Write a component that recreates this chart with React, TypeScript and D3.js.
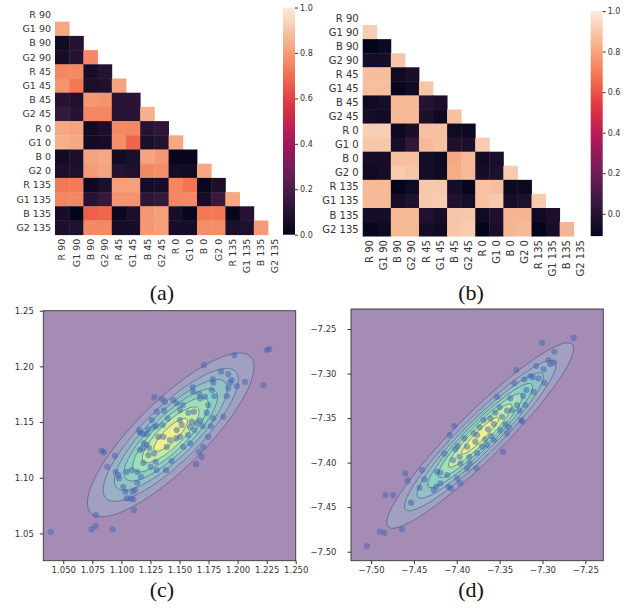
import React, { useEffect, useRef } from "react";
import * as d3 from "d3";

// channel / angle labels of the correlation matrices
const labels = [
  "R 90", "G1 90", "B 90", "G2 90",
  "R 45", "G1 45", "B 45", "G2 45",
  "R 0", "G1 0", "B 0", "G2 0",
  "R 135", "G1 135", "B 135", "G2 135",
];

// lower triangle (row i, columns 0..i-1), panel (a)
const corrA = [
  [],
  [0.83],
  [0.04, 0.10],
  [0.06, 0.10, 0.76],
  [0.75, 0.76, 0.06, 0.09],
  [0.78, 0.72, 0.07, 0.08, 0.82],
  [0.10, 0.08, 0.79, 0.78, 0.11, 0.11],
  [0.14, 0.10, 0.75, 0.75, 0.11, 0.11, 0.85],
  [0.83, 0.82, 0.04, 0.07, 0.76, 0.75, 0.10, 0.12],
  [0.85, 0.83, 0.04, 0.06, 0.77, 0.68, 0.07, 0.09, 0.83],
  [0.04, 0.07, 0.82, 0.83, 0.04, 0.07, 0.82, 0.79, 0.01, 0.01],
  [0.07, 0.08, 0.80, 0.82, 0.09, 0.08, 0.76, 0.77, 0.05, 0.04, 0.83],
  [0.72, 0.73, 0.03, 0.07, 0.81, 0.81, 0.05, 0.06, 0.75, 0.71, 0.02, 0.07],
  [0.75, 0.75, 0.10, 0.14, 0.78, 0.78, 0.12, 0.14, 0.75, 0.76, 0.06, 0.15, 0.83],
  [0.06, 0.00, 0.67, 0.68, 0.02, 0.07, 0.79, 0.81, 0.06, 0.01, 0.72, 0.72, 0.01, 0.09],
  [0.07, 0.08, 0.76, 0.76, 0.06, 0.06, 0.79, 0.81, 0.06, 0.06, 0.77, 0.77, 0.07, 0.08, 0.80],
];

// lower triangle, panel (b)
const corrB = [
  [],
  [0.91],
  [-0.12, -0.08],
  [-0.05, -0.05, 0.89],
  [0.87, 0.87, -0.07, -0.035],
  [0.87, 0.87, -0.10, -0.07, 0.89],
  [-0.07, -0.05, 0.855, 0.855, 0.0, -0.035],
  [-0.05, -0.07, 0.855, 0.86, -0.025, -0.08, 0.875],
  [0.92, 0.92, -0.08, -0.035, 0.875, 0.875, -0.07, -0.08],
  [0.895, 0.895, -0.05, 0.03, 0.86, 0.875, -0.025, -0.025, 0.905],
  [-0.05, -0.05, 0.875, 0.875, -0.05, -0.08, 0.81, 0.855, -0.06, -0.035],
  [-0.07, -0.05, 0.91, 0.89, -0.05, -0.07, 0.82, 0.855, -0.05, -0.025, 0.905],
  [0.86, 0.86, -0.12, -0.07, 0.90, 0.90, -0.05, -0.10, 0.88, 0.87, -0.08, -0.08],
  [0.86, 0.86, -0.05, -0.015, 0.90, 0.91, -0.015, -0.05, 0.88, 0.905, -0.05, -0.025, 0.905],
  [-0.05, -0.05, 0.855, 0.855, -0.015, -0.05, 0.89, 0.895, -0.07, -0.025, 0.845, 0.845, -0.07, -0.025],
  [-0.10, -0.08, 0.855, 0.855, -0.05, -0.07, 0.89, 0.905, -0.12, -0.035, 0.845, 0.86, -0.12, -0.05, 0.845],
];

const cbarTicksA = [0, 0.2, 0.4, 0.6, 0.8, 1.0];
const cbarTicksB = [0, 0.2, 0.4, 0.6, 0.8, 1.0];

// scatter samples, panel (c)
const cX = [
  1.0392, 1.0744, 1.0779, 1.0781, 1.0925, 1.1109, 1.0831, 1.0850, 1.0945, 1.0879,
  1.0951, 1.0973, 1.0979, 1.1016, 1.1034, 1.1046, 1.1080, 1.1103, 1.1097, 1.1117,
  1.1137, 1.1169, 1.1137, 1.1089, 1.1046, 1.1189, 1.1160, 1.1183, 1.1218, 1.1195,
  1.1232, 1.1281, 1.1295, 1.1304, 1.1252, 1.1240, 1.1160, 1.1189, 1.1154, 1.1218,
  1.1261, 1.1281, 1.1304, 1.1356, 1.1283, 1.1347, 1.1375, 1.1367, 1.1399, 1.1447,
  1.1476, 1.1505, 1.1528, 1.1576, 1.1625, 1.1605, 1.1519, 1.1476, 1.1470, 1.1505,
  1.1576, 1.1591, 1.1628, 1.1648, 1.1677, 1.1700, 1.1734, 1.1769, 1.1791, 1.1748,
  1.1800, 1.1777, 1.1720, 1.1677, 1.1614, 1.1619, 1.1671, 1.1711, 1.1786, 1.1791,
  1.1858, 1.1920, 1.1935, 1.1950, 1.1920, 1.1907, 1.1877, 1.1972, 1.1993, 1.2064,
  1.2222, 1.2251, 1.2273, 1.1668, 1.1691, 1.1642, 1.1433, 1.1384, 1.1533, 1.1591,
  1.1705, 1.1748, 1.1361, 1.1418, 1.1390, 1.1318, 1.1304, 1.1232, 1.1505,
];
const cY = [
  1.0514, 1.0536, 1.0566, 1.0664, 1.0536, 1.0709, 1.1242, 1.1228, 1.1197, 1.1098,
  1.1053, 1.1024, 1.0994, 1.0919, 1.0874, 1.0814, 1.0814, 1.0805, 1.0874, 1.0889,
  1.0955, 1.1009, 1.1053, 1.1069, 1.1053, 1.1134, 1.1248, 1.1264, 1.1293, 1.1309,
  1.1204, 1.1219, 1.1143, 1.1069, 1.1098, 1.1264, 1.1404, 1.1392, 1.1428, 1.1392,
  1.1518, 1.1458, 1.1464, 1.1473, 1.1722, 1.1707, 1.1683, 1.1602, 1.1533, 1.1698,
  1.1668, 1.1608, 1.1653, 1.1584, 1.1593, 1.1503, 1.1473, 1.1428, 1.1353, 1.1368,
  1.1383, 1.1458, 1.1428, 1.1488, 1.1512, 1.1464, 1.1584, 1.1464, 1.1533, 1.1653,
  1.1734, 1.1788, 1.1728, 1.1713, 1.1812, 1.1772, 1.1752, 1.2012, 1.1884, 1.1853,
  1.1952, 1.1931, 1.1853, 1.1877, 1.1803, 1.1734, 1.1548, 1.2101, 1.1823, 1.1862,
  1.1832, 1.2147, 1.2156, 1.1233, 1.1188, 1.1122, 1.1150, 1.1069, 1.1278, 1.1309,
  1.1278, 1.1368, 1.1368, 1.1338, 1.1278, 1.1368, 1.1593, 1.1434, 1.1518,
];

// scatter samples, panel (d)
const dX = [
  -7.5047, -7.4900, -7.4845, -7.4638, -7.4833, -7.4743, -7.4600, -7.4573, -7.4533, -7.4433,
  -7.4405, -7.4378, -7.4270, -7.4230, -7.4191, -7.4145, -7.4113, -7.4095, -7.4067, -7.4043,
  -7.4016, -7.3997, -7.4083, -7.4028, -7.3990, -7.3966, -7.3958, -7.3911, -7.3880, -7.3853,
  -7.3849, -7.3803, -7.3783, -7.3763, -7.3771, -7.3733, -7.3705, -7.3686, -7.3666, -7.3635,
  -7.3608, -7.3600, -7.3569, -7.3550, -7.3530, -7.3499, -7.3471, -7.3460, -7.3433, -7.3394,
  -7.3413, -7.3375, -7.3355, -7.3328, -7.3305, -7.3296, -7.3266, -7.3246, -7.3226, -7.3211,
  -7.3188, -7.3141, -7.3110, -7.3071, -7.3044, -7.2986, -7.2978, -7.2928, -7.2908, -7.2861,
  -7.3005, -7.2636, -7.3238, -7.3880, -7.3958, -7.4238, -7.3763, -7.3413, -7.3491, -7.3646,
  -7.3569, -7.3200, -7.3103, -7.4191, -7.2869,
];
const dY = [
  -7.4936, -7.4776, -7.4787, -7.4749, -7.4364, -7.4364, -7.4120, -7.4203, -7.4450, -7.4282,
  -7.4083, -7.4187, -7.4308, -7.4102, -7.4232, -7.3896, -7.4139, -7.4271, -7.4289, -7.3971,
  -7.3850, -7.4176, -7.3690, -7.3589, -7.3813, -7.3934, -7.4008, -7.3727, -7.3821, -7.3934,
  -7.4008, -7.3671, -7.3765, -7.3889, -7.4064, -7.3604, -7.3821, -7.3522, -7.3738, -7.3626,
  -7.3503, -7.3701, -7.3567, -7.3440, -7.3260, -7.3379, -7.3485, -7.3878, -7.3570, -7.3604,
  -7.3417, -7.3278, -7.3410, -7.3110, -7.2960, -7.3353, -7.3417, -7.3522, -7.3252, -7.3065,
  -7.3185, -7.3028, -7.3042, -7.2915, -7.3053, -7.2952, -7.3103, -7.2848, -7.2893, -7.2755,
  -7.2654, -7.2597, -7.3541, -7.4064, -7.4232, -7.4271, -7.3690, -7.3671, -7.3634, -7.3802,
  -7.3746, -7.3353, -7.3204, -7.4113, -7.2878,
];

const cXTicks = [1.05, 1.075, 1.1, 1.125, 1.15, 1.175, 1.2, 1.225, 1.25];
const cYTicks = [1.05, 1.1, 1.15, 1.2, 1.25];
const dXTicks = [-7.5, -7.45, -7.4, -7.35, -7.3, -7.25];
const dYTicks = [-7.5, -7.45, -7.4, -7.35, -7.3, -7.25];

// seaborn "rocket" key colours
const rocketColors = ["#03051a", "#35193e", "#701f57", "#ad1759", "#e13342", "#f37651", "#f6b48f", "#faebdd"];
const rocket = d3
  .scaleLinear<string>()
  .domain(rocketColors.map((_, i) => i / (rocketColors.length - 1)))
  .range(rocketColors)
  .interpolate(d3.interpolateRgb)
  .clamp(true);

const FONT = "DejaVu Sans";
const INK = "#333";

function drawHeatmap(svg, corr, o) {
  const n = labels.length;
  const g = svg.append("g").attr("font-family", FONT).attr("fill", INK);
  const x = d3.scaleBand().domain(labels).range([o.left, o.left + n * o.cell]);
  const y = d3.scaleBand().domain(labels).range([o.top, o.top + n * o.cell]);
  const norm = d3.scaleLinear().domain([o.vmin, o.vmax]).range([0, 1]).clamp(true);

  const cells = corr.flatMap((row, i) => row.map((v, j) => ({ i, j, v })));
  g.append("g")
    .selectAll("rect")
    .data(cells)
    .join("rect")
    .attr("x", d => x(labels[d.j]))
    .attr("y", d => y(labels[d.i]))
    .attr("width", x.bandwidth() + 0.4)
    .attr("height", y.bandwidth() + 0.4)
    .attr("fill", d => rocket(norm(d.v)));

  g.append("g")
    .attr("font-size", o.fontSize)
    .selectAll("text")
    .data(labels)
    .join("text")
    .attr("x", o.left - 4)
    .attr("y", d => y(d) + y.bandwidth() / 2)
    .attr("dy", "0.35em")
    .attr("text-anchor", "end")
    .text(d => d);

  g.append("g")
    .attr("font-size", o.fontSize)
    .selectAll("text")
    .data(labels)
    .join("text")
    .attr("transform", d => "translate(" + (x(d) + x.bandwidth() / 2) + "," + (o.top + n * o.cell + 4) + ") rotate(-90)")
    .attr("dy", "0.35em")
    .attr("text-anchor", "end")
    .text(d => d);

  // colorbar
  const bottom = o.top + n * o.cell;
  const cb = d3.scaleLinear().domain([o.vmin, o.vmax]).range([bottom, o.top]);
  const grad = svg
    .append("defs")
    .append("linearGradient")
    .attr("id", o.id)
    .attr("x1", 0)
    .attr("y1", 1)
    .attr("x2", 0)
    .attr("y2", 0);
  grad
    .selectAll("stop")
    .data(d3.range(0, 1.0001, 0.05))
    .join("stop")
    .attr("offset", d => d)
    .attr("stop-color", d => rocket(d));
  g.append("rect")
    .attr("x", o.cbX)
    .attr("y", o.top)
    .attr("width", o.cbW)
    .attr("height", bottom - o.top)
    .attr("fill", "url(#" + o.id + ")");
  const ax = g
    .append("g")
    .attr("transform", "translate(" + (o.cbX + o.cbW) + ",0)")
    .call(d3.axisRight(cb).tickValues(o.ticks).tickSize(3).tickPadding(2).tickFormat(d3.format(".1f")));
  ax.select(".domain").remove();
  ax.selectAll("line").attr("stroke", INK);
  ax.selectAll("text").attr("font-size", 8).attr("font-family", FONT).attr("fill", INK);
}

function drawScatter(svg, xs, ys, o) {
  const x = d3.scaleLinear().domain(o.xDomain).range([o.left, o.right]);
  const y = d3.scaleLinear().domain(o.yDomain).range([o.bottom, o.top]);

  // gaussian fitted to the samples
  const n = xs.length;
  const mx = d3.mean(xs);
  const my = d3.mean(ys);
  const sxx = d3.sum(xs, v => (v - mx) * (v - mx)) / (n - 1);
  const syy = d3.sum(ys, v => (v - my) * (v - my)) / (n - 1);
  const sxy = d3.sum(xs.map((v, i) => (v - mx) * (ys[i] - my))) / (n - 1);
  const det = sxx * syy - sxy * sxy;

  const step = 2;
  const nx = Math.ceil((o.right - o.left) / step) + 2;
  const ny = Math.ceil((o.bottom - o.top) / step) + 2;
  const values = new Array(nx * ny);
  for (let j = 0; j < ny; j++) {
    for (let i = 0; i < nx; i++) {
      const dx = x.invert(o.left + i * step) - mx;
      const dy = y.invert(o.top + j * step) - my;
      const m2 = (syy * dx * dx - 2 * sxy * dx * dy + sxx * dy * dy) / det;
      values[j * nx + i] = Math.exp(-0.5 * m2);
    }
  }
  const nBands = 8;
  const thresholds = d3.range(1, nBands).map(k => k / o.levelDiv);
  const contours = d3.contours().size([nx, ny]).thresholds(thresholds)(values);
  const proj = d3.geoTransform({
    point(px, py) {
      this.stream.point(o.left + (px - 0.5) * step, o.top + (py - 0.5) * step);
    },
  });
  const path = d3.geoPath(proj);
  const band = k => d3.interpolateRgb("#ffffff", d3.interpolateViridis((k + 0.5) / nBands))(0.5);

  svg
    .append("defs")
    .append("clipPath")
    .attr("id", o.id)
    .append("rect")
    .attr("x", o.left)
    .attr("y", o.top)
    .attr("width", o.right - o.left)
    .attr("height", o.bottom - o.top);

  const plot = svg.append("g").attr("clip-path", "url(#" + o.id + ")");
  plot
    .append("rect")
    .attr("x", o.left)
    .attr("y", o.top)
    .attr("width", o.right - o.left)
    .attr("height", o.bottom - o.top)
    .attr("fill", band(0));
  plot
    .append("g")
    .selectAll("path")
    .data(contours)
    .join("path")
    .attr("d", path)
    .attr("fill", (d, k) => band(k + 1));
  plot
    .append("g")
    .selectAll("path")
    .data(contours)
    .join("path")
    .attr("d", path)
    .attr("fill", "none")
    .attr("stroke", "#45456a")
    .attr("stroke-opacity", 0.75)
    .attr("stroke-width", 0.7);
  plot
    .append("g")
    .selectAll("circle")
    .data(xs.map((v, i) => [v, ys[i]]))
    .join("circle")
    .attr("cx", d => x(d[0]))
    .attr("cy", d => y(d[1]))
    .attr("r", 3.1)
    .attr("fill", "#4262b0")
    .attr("fill-opacity", 0.5);

  svg
    .append("rect")
    .attr("x", o.left)
    .attr("y", o.top)
    .attr("width", o.right - o.left)
    .attr("height", o.bottom - o.top)
    .attr("fill", "none")
    .attr("stroke", INK)
    .attr("stroke-width", 0.9);

  const xa = svg
    .append("g")
    .attr("transform", "translate(0," + o.bottom + ")")
    .call(d3.axisBottom(x).tickValues(o.xTicks).tickSize(3.5).tickPadding(3).tickFormat(d3.format(o.xFmt)));
  const ya = svg
    .append("g")
    .attr("transform", "translate(" + o.left + ",0)")
    .call(d3.axisLeft(y).tickValues(o.yTicks).tickSize(3.5).tickPadding(o.yPad).tickFormat(d3.format(o.yFmt)));
  [xa, ya].forEach(a => {
    a.select(".domain").remove();
    a.selectAll("line").attr("stroke", INK);
    a.selectAll("text").attr("font-size", 8.5).attr("font-family", FONT).attr("fill", INK);
  });
}

function App() {
  const ref = useRef(null);

  useEffect(() => {
    const svg = d3.select(ref.current);
    svg.selectAll("*").remove();

    drawHeatmap(svg, corrA, {
      id: "cbA", left: 55, top: 7.5, cell: 14.2, vmin: 0, vmax: 1,
      cbX: 283, cbW: 12, ticks: cbarTicksA, fontSize: 9.5,
    });
    drawHeatmap(svg, corrB, {
      id: "cbB", left: 362.7, top: 11, cell: 14.07, vmin: -0.11, vmax: 1,
      cbX: 590.7, cbW: 12, ticks: cbarTicksB, fontSize: 10,
    });

    drawScatter(svg, cX, cY, {
      id: "clipC", left: 43.3, right: 295.7, top: 310.7, bottom: 560.7,
      xDomain: [1.0328, 1.25], yDomain: [1.0255, 1.25], yPad: 6,
      xTicks: cXTicks, yTicks: cYTicks, xFmt: ".3f", yFmt: ".2f", levelDiv: 7.6,
    });
    drawScatter(svg, dX, dY, {
      id: "clipD", left: 351, right: 603.3, top: 309, bottom: 560.7,
      xDomain: [-7.5234, -7.229], yDomain: [-7.5101, -7.2275], yPad: 11,
      xTicks: dXTicks, yTicks: dYTicks, xFmt: ".2f", yFmt: ".2f", levelDiv: 7.6,
    });

    const captions = [
      { t: "(a)", x: 162, y: 300 },
      { t: "(b)", x: 471, y: 300 },
      { t: "(c)", x: 162, y: 597 },
      { t: "(d)", x: 471, y: 597 },
    ];
    svg
      .append("g")
      .selectAll("text")
      .data(captions)
      .join("text")
      .attr("x", d => d.x)
      .attr("y", d => d.y)
      .attr("text-anchor", "middle")
      .attr("font-family", "Liberation Serif")
      .attr("font-size", 22)
      .attr("fill", "#111")
      .text(d => d.t);
  }, []);

  return (
    <svg
      ref={ref}
      width={643}
      height={610}
      style={{ position: "absolute", left: 0, top: 0, background: "#fff" }}
    />
  );
}

export default App;
